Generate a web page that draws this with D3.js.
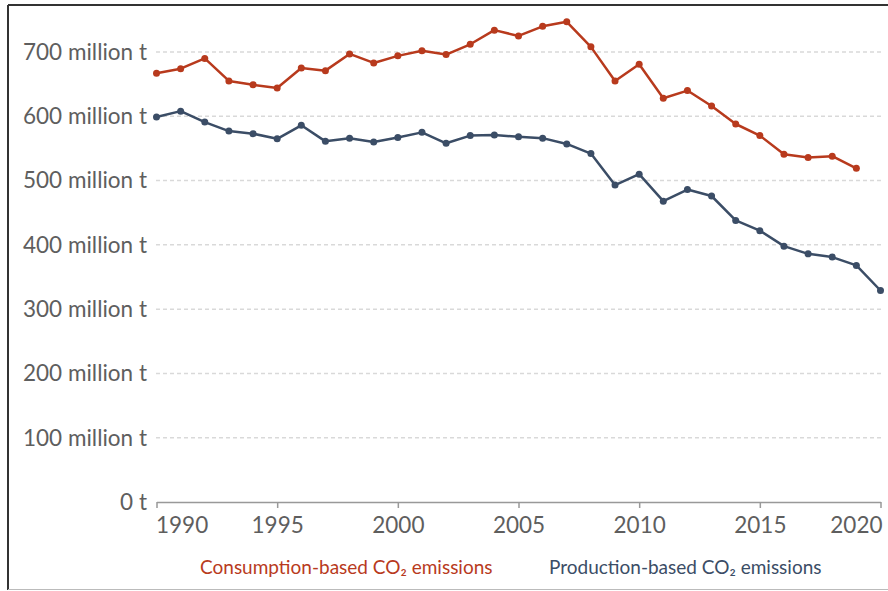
<!DOCTYPE html>
<html>
<head>
<meta charset="utf-8">
<script src="https://cdn.jsdelivr.net/npm/d3@7"></script>
<style>
  body { margin: 0; background: #fff; }
  svg { display: block; font-family: Lato, "Open Sans", sans-serif; }
</style>
</head>
<body>
<div id="chart"></div>
<script>
const years = d3.range(1990, 2021);

const consumption = [667, 674, 690, 655, 649, 644, 675, 671, 697, 683,
    694, 702, 696, 712, 734, 725, 740, 747, 708, 655,
    681, 628, 640, 616, 588, 570, 541, 536, 538, 519];

const production = [599, 608, 591, 577, 573, 565, 586, 561, 566, 560,
    567, 575, 558, 570, 571, 568, 566, 557, 542, 493,
    510, 468, 486, 476, 438, 422, 398, 386, 381, 368, 329];

const yTicks = [0, 100, 200, 300, 400, 500, 600, 700];
const xTicks = [1990, 1995, 2000, 2005, 2010, 2015, 2020];

const seriesNames = ["Consumption-based CO\u2082 emissions", "Production-based CO\u2082 emissions"];
const colors = ["#b83a1d", "#3b4d66"];

const W = 888, H = 591;

const svg = d3.select("#chart").append("svg")
    .attr("width", W)
    .attr("height", H);

// frame
svg.append("line").attr("x1", 8).attr("x2", 8).attr("y1", 5).attr("y2", 590)
    .attr("stroke", "#333").attr("stroke-width", 2);
svg.append("line").attr("x1", 8).attr("x2", W).attr("y1", 5).attr("y2", 5)
    .attr("stroke", "#333").attr("stroke-width", 2);
svg.append("line").attr("x1", 8).attr("x2", W).attr("y1", 589.5).attr("y2", 589.5)
    .attr("stroke", "#bbb").attr("stroke-width", 1);

const x = d3.scaleLinear()
    .domain([1990, 2020])
    .range([156.5, 880.5]);

const y = d3.scaleLinear()
    .domain([0, 700])
    .range([502, 52]);

// y grid + labels
const yg = svg.append("g");
yg.selectAll("line")
    .data(yTicks.filter(d => d > 0))
    .join("line")
    .attr("x1", 156).attr("x2", 882)
    .attr("y1", d => y(d)).attr("y2", d => y(d))
    .attr("stroke", "#d9d9d9")
    .attr("stroke-width", 1.5)
    .attr("stroke-dasharray", "4,3");

yg.selectAll("text")
    .data(yTicks)
    .join("text")
    .attr("x", 147)
    .attr("y", d => y(d))
    .attr("dy", "0.35em")
    .attr("text-anchor", "end")
    .attr("font-size", 22.5)
    .attr("fill", "#5e5e5e")
    .text(d => d === 0 ? "0 t" : d + " million t");

// x axis
const xAxis = svg.append("g")
    .attr("transform", `translate(0,${y(0)})`)
    .call(d3.axisBottom(x).tickValues(xTicks).tickFormat(d3.format("d")).tickSize(6).tickSizeOuter(0));
xAxis.select(".domain").attr("stroke", "#999").attr("stroke-width", 1.5);
xAxis.selectAll(".tick line").attr("stroke", "#999").attr("stroke-width", 1.5);
xAxis.selectAll(".tick text")
    .attr("font-family", "Lato, sans-serif")
    .attr("font-size", 22.5)
    .attr("fill", "#5e5e5e")
    .attr("y", 31)
    .attr("dy", 0)
    .attr("text-anchor", d => d === 1990 ? "start" : d === 2020 ? "end" : "middle")
    .attr("dx", d => d === 1990 ? -1 : d === 2020 ? 1.5 : 0);

// lines
const allSeries = [consumption, production];
const line = d3.line()
    .x((d, i) => x(years[i]))
    .y(d => y(d));

allSeries.forEach((vals, k) => {
    svg.append("path")
        .datum(vals)
        .attr("fill", "none")
        .attr("stroke", colors[k])
        .attr("stroke-width", 2.5)
        .attr("stroke-linejoin", "round")
        .attr("d", line);
    svg.append("g")
        .selectAll("circle")
        .data(vals)
        .join("circle")
        .attr("cx", (d, i) => x(years[i]))
        .attr("cy", d => y(d))
        .attr("r", 3.5)
        .attr("fill", colors[k]);
});

// legend
const legendX = [200, 549];
svg.append("g")
    .selectAll("text")
    .data(seriesNames)
    .join("text")
    .attr("x", (d, i) => legendX[i])
    .attr("y", 574)
    .attr("font-size", 19)
    .attr("fill", (d, i) => colors[i])
    .text(d => d);
</script>
</body>
</html>
